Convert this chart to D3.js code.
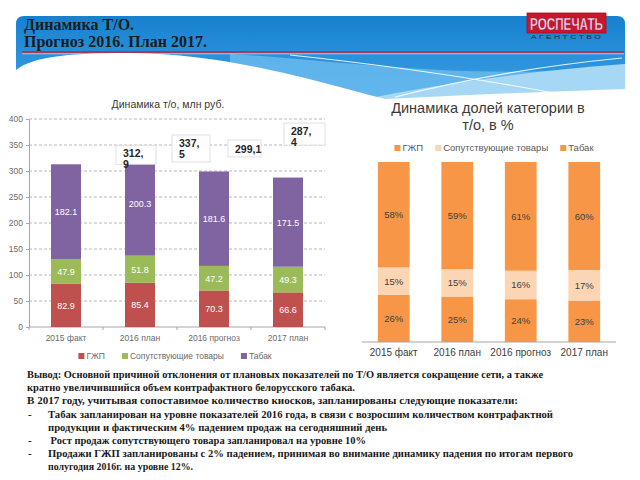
<!DOCTYPE html>
<html><head><meta charset="utf-8">
<script src="https://cdn.jsdelivr.net/npm/d3@7"></script>
<style>html,body{margin:0;padding:0;background:#fff;} svg{display:block}</style>
</head><body>
<svg id="c" width="640" height="480"></svg>
<script>
// ---------- DATA ----------
const categories = ["2015 факт", "2016 план", "2016 прогноз", "2017 план"];
const seriesNames = ["ГЖП", "Сопутствующие товары", "Табак"];
const gzhpValues = [82.9, 85.4, 70.3, 66.6];
const soputValues = [47.9, 51.8, 47.2, 49.3];
const tabakValues = [182.1, 200.3, 181.6, 171.5];
const totalValues = [312.9, 337.5, 299.1, 287.4];
const yTickValues = [0, 50, 100, 150, 200, 250, 300, 350, 400];
const gzhpShares = [26, 25, 24, 23];
const soputShares = [15, 15, 16, 17];
const tabakShares = [58, 59, 61, 60];
const titleLines = ["Динамика Т/О.", "Прогноз 2016. План 2017."];
const leftTitle = "Динамика т/о, млн руб.";
const rightTitleLines = ["Динамика долей категории в", "т/о, в %"];
const conclusionLines = [
  {dash: false, text: "Вывод: Основной причиной отклонения от плановых показателей по Т/О является сокращение сети, а также"},
  {dash: false, text: "кратно увеличившийся объем контрафактного белорусского табака."},
  {dash: false, text: "В 2017 году, учитывая сопоставимое количество киосков, запланированы следующие показатели:"},
  {dash: true,  text: "Табак запланирован на уровне показателей 2016 года, в связи с возросшим количеством контрафактной"},
  {dash: false, text: "продукции и фактическим 4% падением продаж на сегодняшний день"},
  {dash: true,  text: " Рост продаж сопутствующего товара запланировал на уровне 10%"},
  {dash: true,  text: "Продажи ГЖП запланированы с 2% падением, принимая во внимание динамику падения по итогам первого"},
  {dash: false, text: "полугодия 2016г. на уровне 12%."}
];

// ---------- LAYOUT ----------
const svg = d3.select("#c");
const SANS = "'Liberation Sans', Arial, sans-serif";
const SERIF = "'Liberation Serif', 'Times New Roman', serif";
const defs = svg.append("defs");
const grad = defs.append("linearGradient").attr("id", "bannerGrad")
  .attr("x1", 0).attr("y1", 0).attr("x2", 0).attr("y2", 1);
grad.append("stop").attr("offset", "0%").attr("stop-color", "#1781cf");
grad.append("stop").attr("offset", "100%").attr("stop-color", "#3fa3e6");

// Banner
svg.append("path").attr("d", "M16,105 L16,24 Q16,16 24,16 L617,16 Q625,16 625,24 L625,105 Z")
  .attr("fill", "url(#bannerGrad)");
svg.append("path").attr("d", "M230,54 C340,60 470,82 625,66 L625,105 L230,105 Z")
  .attr("fill", "#6cbcef").attr("opacity", 0.8);
svg.append("path").attr("d", "M360,100 C450,82 540,70 625,64 L625,105 Z")
  .attr("fill", "#a6d8f6");
svg.append("path").attr("d", "M14,72 C28,58 60,53 130,53 C230,54 310,80 385,99 C470,95 560,91 627,89 L627,115 L14,115 Z")
  .attr("fill", "#ffffff");
svg.append("path").attr("d", "M290,55 Q450,72 585,99").attr("fill", "none")
  .attr("stroke", "#ffffff").attr("stroke-width", 1.2).attr("opacity", 0.85);
svg.append("path").attr("d", "M395,97 Q500,70 622,58").attr("fill", "none")
  .attr("stroke", "#ffffff").attr("stroke-width", 1.2).attr("opacity", 0.85);
// red rule
svg.append("line").attr("x1", 22).attr("x2", 624).attr("y1", 52).attr("y2", 52)
  .attr("stroke", "#d21f2b").attr("stroke-width", 1.6);
svg.append("line").attr("x1", 22).attr("x2", 624).attr("y1", 53.8).attr("y2", 53.8)
  .attr("stroke", "#ffffff").attr("stroke-width", 0.8).attr("opacity", 0.7);
// title
svg.selectAll("text.title").data(titleLines).join("text")
  .attr("x", 24).attr("y", (d, i) => 30 + i * 17)
  .attr("font-family", SERIF).attr("font-weight", "bold").attr("font-size", 16)
  .attr("fill", "#1b1b1b").text(d => d);
// logo
svg.append("rect").attr("x", 527).attr("y", 13).attr("width", 79).attr("height", 20)
  .attr("fill", "#c8172a").attr("stroke", "#a40f1f").attr("stroke-width", 0.8);
svg.append("text").attr("x", 530).attr("y", 30).text("РОСПЕЧАТЬ")
  .attr("font-family", "'Liberation Sans Narrow', 'Arial Narrow', " + SANS).attr("font-weight", "bold")
  .attr("font-size", 16).attr("fill", "#efdceb").attr("stroke", "#8a1c5a").attr("stroke-width", 0.4)
  .attr("textLength", 73).attr("lengthAdjust", "spacingAndGlyphs");
svg.append("text").attr("x", 531).attr("y", 39).text("А Г Е Н Т С Т В О")
  .attr("font-family", SANS).attr("font-size", 4.5).attr("fill", "#2b2b3a")
  .attr("textLength", 70).attr("lengthAdjust", "spacingAndGlyphs");

// ---------- LEFT CHART ----------
const colorsL = ["#c0504d", "#9bbb59", "#8064a2"];
const xL = d3.scaleBand().domain(categories).range([29, 325]).paddingInner(0.595).paddingOuter(0.2975);
const yL = d3.scaleLinear().domain([0, 400]).range([327, 119]);
const gL = svg.append("g");
gL.append("text").attr("x", 168).attr("y", 108).attr("text-anchor", "middle")
  .attr("font-family", SANS).attr("font-size", 10.5).attr("fill", "#3a3a3a").text(leftTitle);
gL.selectAll("line.grid").data(yTickValues.filter(v => v > 0)).join("line")
  .attr("x1", 29).attr("x2", 325).attr("y1", d => yL(d)).attr("y2", d => yL(d))
  .attr("stroke", "#a6a6a6").attr("stroke-width", 0.8).attr("stroke-dasharray", "3,2");
const yAx = gL.append("g").attr("transform", "translate(29,0)")
  .call(d3.axisLeft(yL).tickValues(yTickValues).tickSize(3).tickPadding(3).tickSizeOuter(0));
yAx.select(".domain").attr("stroke", "#a6a6a6");
yAx.selectAll(".tick line").attr("stroke", "#a6a6a6");
yAx.selectAll(".tick text").attr("font-family", SANS).attr("font-size", 8.5).attr("fill", "#6a6a6a");
// x axis
gL.append("line").attr("x1", 29).attr("x2", 325).attr("y1", yL(0)).attr("y2", yL(0))
  .attr("stroke", "#a6a6a6").attr("stroke-width", 1);
gL.selectAll("line.xt").data(d3.range(categories.length + 1)).join("line")
  .attr("x1", i => 29 + i * xL.step()).attr("x2", i => 29 + i * xL.step())
  .attr("y1", yL(0)).attr("y2", yL(0) + 3).attr("stroke", "#a6a6a6");
gL.selectAll("text.xl").data(categories).join("text")
  .attr("x", d => xL(d) + xL.bandwidth() / 2).attr("y", 341).attr("text-anchor", "middle")
  .attr("font-family", SANS).attr("font-size", 8.5).attr("fill", "#6a6a6a").text(d => d);
// stacked bars
const rowsL = categories.map((c, i) => ({cat: c, "ГЖП": gzhpValues[i], "Сопутствующие товары": soputValues[i], "Табак": tabakValues[i]}));
const stackL = d3.stack().keys(seriesNames)(rowsL);
stackL.forEach((s, si) => {
  const g = gL.append("g");
  g.selectAll("rect").data(s).join("rect")
    .attr("x", d => xL(d.data.cat)).attr("width", xL.bandwidth())
    .attr("y", d => yL(d[1])).attr("height", d => yL(d[0]) - yL(d[1]))
    .attr("fill", colorsL[si]);
  g.selectAll("text").data(s).join("text")
    .attr("x", d => xL(d.data.cat) + xL.bandwidth() / 2).attr("y", d => yL((d[0] + d[1]) / 2) + 3.5)
    .attr("text-anchor", "middle").attr("font-family", SANS).attr("font-size", 9).attr("fill", "#ffffff")
    .text(d => d3.format(".1f")(d[1] - d[0]));
});
// total labels (boxes, as placed in the original slide)
const xTot = d3.scalePoint().domain(categories).range([116, 284]);
const lift = [19, 16.5, 31.5, 54.5];
const boxW = [40, 38, 33, 41];
const boxH = [19, 27, 17, 22];
const wrap = [true, true, false, true];
categories.forEach((c, i) => {
  const top = yL(totalValues[i]) - lift[i];
  const left = xTot(c);
  gL.append("rect").attr("x", left).attr("y", top).attr("width", boxW[i]).attr("height", boxH[i])
    .attr("fill", "#ffffff").attr("stroke", "#d9d9d9").attr("stroke-width", 0.8);
  const s = d3.format(".1f")(totalValues[i]).replace(".", ",");
  const parts = wrap[i] ? [s.slice(0, s.indexOf(",") + 1), s.slice(s.indexOf(",") + 1)] : [s];
  gL.selectAll(null).data(parts).join("text")
    .attr("x", left + 7).attr("y", (d, k) => top + (wrap[i] ? 12 : 13) + k * 11)
    .attr("font-family", SANS).attr("font-weight", "bold").attr("font-size", 10.5).attr("fill", "#262626")
    .text(d => d);
});
// legend
function legend(g, items, colors, cx, y, fs, gap, col) {
  const lg = g.append("g");
  let x = 0;
  items.forEach((name, i) => {
    lg.append("rect").attr("x", x).attr("y", y - 6).attr("width", 6).attr("height", 6).attr("fill", colors[i]);
    const t = lg.append("text").attr("x", x + 8).attr("y", y).attr("font-family", SANS)
      .attr("font-size", fs).attr("fill", col).text(name);
    x += 8 + t.node().getComputedTextLength() + gap;
  });
  const total = x - gap;
  lg.attr("transform", `translate(${cx - total / 2},0)`);
}
legend(gL, seriesNames, colorsL, 175, 359, 8.5, 17, "#6a6a6a");

// ---------- RIGHT CHART ----------
const colorsR = ["#f79646", "#fcd5b5", "#f79646"];
const xR = d3.scaleBand().domain(categories).range([362, 616]).paddingInner(0.5).paddingOuter(0.25);
const yR = d3.scaleLinear().domain([0, 1]).range([342, 162]);
const gR = svg.append("g");
gR.selectAll("text.rt").data(rightTitleLines).join("text")
  .attr("x", 488).attr("y", (d, i) => 113 + i * 16.5).attr("text-anchor", "middle")
  .attr("font-family", SANS).attr("font-size", 14.5).attr("fill", "#3a3a3a").text(d => d);
legend(gR, seriesNames, colorsR, 494, 151, 9.5, 12, "#595959");
const rowsR = categories.map((c, i) => ({cat: c, "ГЖП": gzhpShares[i], "Сопутствующие товары": soputShares[i], "Табак": tabakShares[i]}));
const stackR = d3.stack().keys(seriesNames).offset(d3.stackOffsetExpand)(rowsR);
stackR.forEach((s, si) => {
  const g = gR.append("g");
  g.selectAll("rect").data(s).join("rect")
    .attr("x", d => xR(d.data.cat)).attr("width", xR.bandwidth())
    .attr("y", d => yR(d[1])).attr("height", d => yR(d[0]) - yR(d[1]))
    .attr("fill", colorsR[si]);
  g.selectAll("text").data(s).join("text")
    .attr("x", d => xR(d.data.cat) + xR.bandwidth() / 2).attr("y", d => yR((d[0] + d[1]) / 2) + 3.5)
    .attr("text-anchor", "middle").attr("font-family", SANS).attr("font-size", 9.5).attr("fill", "#404040")
    .text(d => d.data[seriesNames[si]] + "%");
});
gR.append("line").attr("x1", 362).attr("x2", 616).attr("y1", yR(0)).attr("y2", yR(0))
  .attr("stroke", "#a6a6a6").attr("stroke-width", 1);
gR.selectAll("text.xr").data(categories).join("text")
  .attr("x", d => xR(d) + xR.bandwidth() / 2).attr("y", 356).attr("text-anchor", "middle")
  .attr("font-family", SANS).attr("font-size", 10).attr("fill", "#404040").text(d => d);

// ---------- CONCLUSION TEXT ----------
const lineWidths = [516, 328, 491, 505, 339, 318, 525, 145];
const gT = svg.append("g");
conclusionLines.forEach((l, i) => {
  const y = 378 + i * 13.2;
  const x = (i < 3) ? 27 : 48;
  if (l.dash) gT.append("text").attr("x", 28).attr("y", y).attr("font-family", SERIF)
    .attr("font-weight", "bold").attr("font-size", 11).attr("fill", "#1a1a1a").text("-");
  gT.append("text").attr("x", x).attr("y", y).attr("font-family", SERIF).attr("font-weight", "bold")
    .attr("font-size", 11).attr("fill", "#1a1a1a")
    .style("white-space", "pre")
    .attr("textLength", lineWidths[i]).attr("lengthAdjust", "spacingAndGlyphs").text(l.text);
});
</script>
</body></html>
